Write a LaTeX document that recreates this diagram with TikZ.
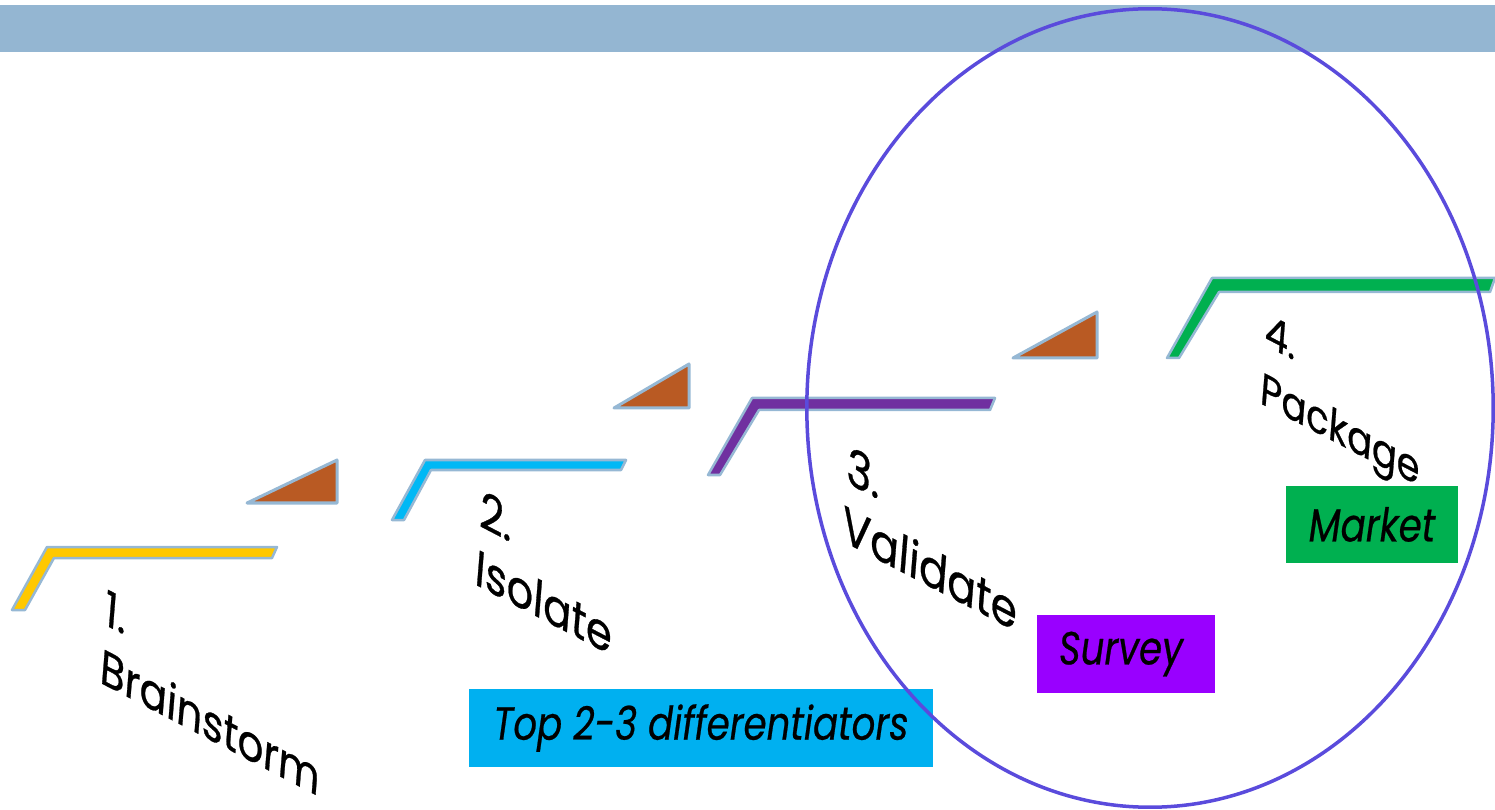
\documentclass[tikz,border=0pt]{standalone}
\usepackage{fontspec}
\setmainfont{Poppins}
\newfontfamily\labfont[FakeStretch=0.93,FakeBold=0.6]{Poppins}
\newfontfamily\boxfont[FakeStretch=0.8,FakeBold=0.5]{Poppins}
\usetikzlibrary{shapes.geometric}
\definecolor{barblue}{RGB}{148,182,210}
\definecolor{edgeblue}{RGB}{150,184,212}
\definecolor{stepyellow}{RGB}{255,200,0}
\definecolor{stepcyan}{RGB}{0,184,245}
\definecolor{steppurple}{RGB}{112,48,160}
\definecolor{stepgreen}{RGB}{0,176,80}
\definecolor{rampbrown}{RGB}{185,90,35}
\definecolor{boxcyan}{RGB}{0,176,240}
\definecolor{boxpurple}{RGB}{153,0,255}
\definecolor{boxgreen}{RGB}{0,176,80}
\definecolor{ringblue}{RGB}{90,75,220}
\tikzset{
  band/.style={draw=edgeblue, line width=0.025cm, line join=round, fill=#1},
  ramp/.style={draw=edgeblue, line width=0.03cm, line join=round, fill=rampbrown},
  steplabel/.style={inner sep=0pt, anchor=north west, align=left,
    cm={0.887,-0.462,0.08,1,(0,0)},
    font=\labfont\fontsize{#1}{16.5pt}\selectfont},
  tagbox/.style={fill=#1, inner sep=0pt, minimum height=0.78cm,
    font=\boxfont\itshape\fontsize{13.2pt}{15pt}\selectfont}
}
\begin{document}
\begin{tikzpicture}[x=0.01cm, y=-0.01cm]
\useasboundingbox (0,0) rectangle (1495,810);
% top bar
\fill[barblue] (0,5) rectangle (1495,52);
% steps
\draw[band=stepyellow] (12,610) -- (47,547) -- (277,547) -- (272,558) -- (54,558) -- (25,610) -- cycle;
\draw[band=stepcyan] (392,520) -- (425,460) -- (626,460) -- (621,470) -- (431,470) -- (404,520) -- cycle;
\draw[band=steppurple] (708,475) -- (752,398) -- (995,398) -- (990,410) -- (759,410) -- (720,475) -- cycle;
\draw[band=stepgreen] (1167,358) -- (1212,278) -- (1495,278) -- (1490,292) -- (1219,292) -- (1179,358) -- cycle;
% ramps
\draw[ramp] (247,503) -- (337,460) -- (337,503) -- cycle;
\draw[ramp] (614,408) -- (689,364) -- (689,408) -- cycle;
\draw[ramp] (1013,358) -- (1097,312) -- (1097,358) -- cycle;
% labels
\node[steplabel=13.8pt] (l1) at (106,588) {1.\\Brainstorm};
\node[steplabel=14.2pt] (l2) at (481,488) {2.\\Isolate};
\node[steplabel=14.4pt] (l3) at (848,444) {3.\\Validate};
\node[steplabel=12.6pt] (l4) at (1266,312) {4.\\Package};
% tag boxes
\node[tagbox=boxcyan, minimum width=4.64cm] (t1) at (701,728) {Top 2-3 differentiators};
\node[tagbox=boxpurple, minimum width=1.78cm] (t2) at (1126,654) {\hspace*{-0.1cm}Survey};
\node[tagbox=boxgreen, minimum width=1.72cm, minimum height=0.77cm] (t3) at (1372,524.5) {Market};
% ellipse
\node[draw=ringblue, line width=0.035cm, ellipse, inner sep=0pt,
      minimum width=6.86cm, minimum height=7.98cm] (ring) at (1150,408) {};
\end{tikzpicture}
\end{document}
